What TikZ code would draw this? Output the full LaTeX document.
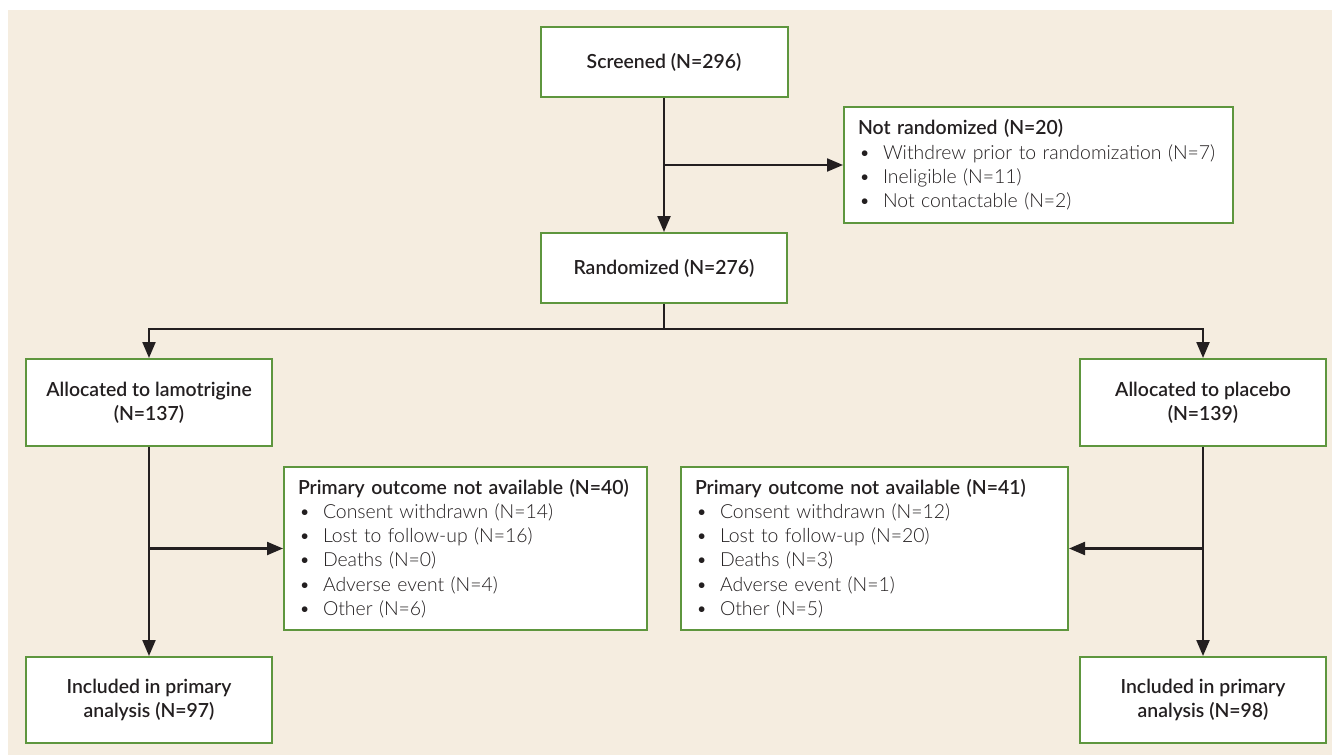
\documentclass[tikz,border=0pt]{standalone}
\usepackage{fontspec}
\setmainfont{Lato}[UprightFont=* Light, BoldFont=* Semibold]
\usetikzlibrary{arrows.meta}
\definecolor{bg}{RGB}{245,237,224}
\definecolor{grn}{RGB}{94,150,62}
\definecolor{ink}{RGB}{35,31,32}
\tikzset{
  box/.style={draw=grn, line width=1pt, fill=white, inner sep=0pt, align=center,
    font=\fontsize{9.7}{12.1}\selectfont\bfseries, text=ink},
  listbox/.style={box, align=left, inner xsep=7pt},
  arr/.style={draw=ink, line width=1.1pt, -{Triangle[length=8pt,width=6.5pt]}},
  ln/.style={draw=ink, line width=1.1pt},
}
\newcommand{\itm}[1]{\\\mbox{\mdseries\hspace*{0.5pt}\makebox[12pt][l]{\textbullet}#1}}
\begin{document}
\begin{tikzpicture}[x=0.5pt,y=-0.5pt]
\useasboundingbox (0,0) rectangle (1332,755);
\fill[bg] (8,10) rectangle (1332,755);

\node[box, minimum width=123.5pt, minimum height=35pt] (scr) at (664,62) {Screened (N=296)};
\node[listbox, minimum width=194.5pt, text width=180.5pt, minimum height=58pt] (notr) at (1038.5,165)
  {\mbox{Not randomized (N=20)}\itm{Withdrew prior to randomization (N=7)}\itm{Ineligible (N=11)}\itm{Not contactable (N=2)}};
\node[box, minimum width=123pt, minimum height=35pt] (rand) at (664,268) {Randomized (N=276)};
\node[box, minimum width=123pt, minimum height=43.5pt] (lam) at (149,402.5) {Allocated to lamotrigine\\(N=137)};
\node[box, minimum width=123pt, minimum height=43.5pt] (pla) at (1203,402.5) {Allocated to placebo\\(N=139)};
\node[listbox, minimum width=181.5pt, text width=167.5pt, minimum height=81.5pt] (po40) at (465.5,548.5)
  {\mbox{Primary outcome not available (N=40)}\itm{Consent withdrawn (N=14)}\itm{Lost to follow-up (N=16)}\itm{Deaths (N=0)}\itm{Adverse event (N=4)}\itm{Other (N=6)}};
\node[listbox, minimum width=193.5pt, text width=179.5pt, minimum height=81.5pt] (po41) at (874.5,548.5)
  {\mbox{Primary outcome not available (N=41)}\itm{Consent withdrawn (N=12)}\itm{Lost to follow-up (N=20)}\itm{Deaths (N=3)}\itm{Adverse event (N=1)}\itm{Other (N=5)}};
\node[box, minimum width=123pt, minimum height=43pt] (inc97) at (149,700) {Included in primary\\analysis (N=97)};
\node[box, minimum width=123pt, minimum height=43pt] (inc98) at (1203,700) {Included in primary\\analysis (N=98)};

\coordinate (j1) at (scr.south |- notr.west);
\coordinate (sp) at (664,329);
\coordinate (j2) at (lam.south |- po40.west);
\coordinate (j3) at (pla.south |- po41.east);

\draw[arr] (scr.south) -- (rand.north);
\draw[arr] (j1) -- (notr.west);
\draw[ln] (rand.south) -- (sp);
\draw[arr] (sp) -| (lam.north);
\draw[arr] (sp) -| (pla.north);
\draw[arr] (lam.south) -- (inc97.north);
\draw[arr] (j2) -- (po40.west);
\draw[arr] (pla.south) -- (inc98.north);
\draw[arr] (j3) -- (po41.east);
\end{tikzpicture}
\end{document}
